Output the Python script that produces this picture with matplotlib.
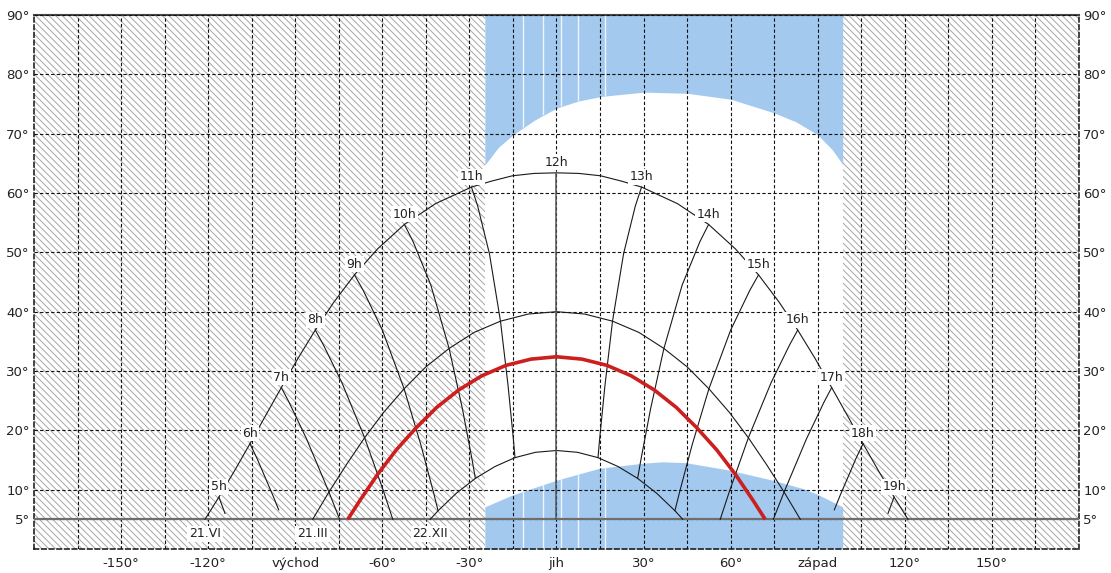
import matplotlib
matplotlib.use("Agg")
import matplotlib.pyplot as plt

plt.rcParams['font.family'] = ['DejaVu Sans']
plt.rcParams['hatch.linewidth'] = 0.7

# ---------------- data (azimuth deg from south, elevation deg) ----------------
summer_az = [-121.1, -116.3, -110.9, -105.6, -100.2, -94.8, -89.1, -83.1, -76.7, -69.6,
             -61.6, -52.4, -41.7, -29.3, -22.4, -15.2, -7.7, 0.0,
             7.7, 15.2, 22.4, 29.3, 41.7, 52.4, 61.6, 69.6, 76.7, 83.1, 89.1, 94.8,
             100.2, 105.6, 110.9, 116.3, 121.1]
summer_el = [5.0, 8.75, 13.2, 17.75, 22.5, 27.2, 32.1, 36.9, 41.6, 46.2,
             50.6, 54.7, 58.2, 61.0, 62.0, 62.9, 63.3, 63.4,
             63.3, 62.9, 62.0, 61.0, 58.2, 54.7, 50.6, 46.2, 41.6, 36.9, 32.1, 27.2,
             22.5, 17.75, 13.2, 8.75, 5.0]

equinox_az = [-84.0, -78.4, -72.4, -66.1, -59.6, -52.5, -45.0, -37.0, -28.4, -19.3, -9.7, 0.0,
              9.7, 19.3, 28.4, 37.0, 45.0, 52.5, 59.6, 66.1, 72.4, 78.4, 84.0]
equinox_el = [5.0, 9.6, 14.2, 18.75, 23.0, 27.0, 30.7, 33.8, 36.5, 38.4, 39.6, 40.0,
              39.6, 38.4, 36.5, 33.8, 30.7, 27.0, 23.0, 18.75, 14.2, 9.6, 5.0]

red_az = [-71.9, -67.7, -61.6, -55.2, -48.4, -41.3, -33.7, -25.7, -17.4, -8.8, 0.0,
          8.8, 17.4, 25.7, 33.7, 41.3, 48.4, 55.2, 61.6, 67.7, 71.9]
red_el = [5.0, 8.2, 12.6, 16.7, 20.4, 23.85, 26.8, 29.2, 30.95, 32.0, 32.4,
          32.0, 30.95, 29.2, 26.8, 23.85, 20.4, 16.7, 12.6, 8.2, 5.0]

winter_az = [-43.5, -40.8, -34.5, -27.95, -21.2, -14.3, -7.2, 0.0,
             7.2, 14.3, 21.2, 27.95, 34.5, 40.8, 43.5]
winter_el = [5.0, 6.45, 9.4, 11.9, 13.9, 15.4, 16.3, 16.6,
             16.3, 15.4, 13.9, 11.9, 9.4, 6.45, 5.0]

date_labels = ['21.VI', '21.III', '22.XII']

# hour lines: from the 21.VI point downward through the year
hour_labels = ['5h', '6h', '7h', '8h', '9h', '10h', '11h', '12h',
               '13h', '14h', '15h', '16h', '17h', '18h', '19h']
hour_az = [
    [-116.3, -114.2],
    [-105.6, -103.2, -97.6, -95.7],
    [-94.8, -92.2, -86.1, -78.4, -74.7],
    [-83.1, -80.3, -73.9, -66.1, -59.6, -56.4],
    [-69.6, -66.6, -60.0, -52.5, -46.7, -42.35, -40.8],
    [-52.4, -49.4, -43.3, -37.0, -32.4, -29.1, -27.95],
    [-29.3, -27.15, -23.1, -19.3, -16.7, -14.9, -14.3],
    [0.0, 0.0],
    [29.3, 27.15, 23.1, 19.3, 16.7, 14.9, 14.3],
    [52.4, 49.4, 43.3, 37.0, 32.4, 29.1, 27.95],
    [69.6, 66.6, 60.0, 52.5, 46.7, 42.35, 40.8],
    [83.1, 80.3, 73.9, 66.1, 59.6, 56.4],
    [94.8, 92.2, 86.1, 78.4, 74.7],
    [105.6, 103.2, 97.6, 95.7],
    [116.3, 114.2],
]
hour_el = [
    [8.75, 6.0],
    [17.75, 15.3, 8.9, 6.6],
    [27.2, 24.8, 18.55, 9.6, 5.0],
    [36.9, 34.4, 28.0, 18.75, 9.75, 5.0],
    [46.2, 43.6, 36.9, 27.0, 17.5, 9.5, 6.45],
    [54.7, 51.8, 44.5, 33.8, 23.6, 15.1, 11.9],
    [61.0, 57.8, 49.75, 38.4, 27.6, 18.75, 15.4],
    [63.4, 5.0],
    [61.0, 57.8, 49.75, 38.4, 27.6, 18.75, 15.4],
    [54.7, 51.8, 44.5, 33.8, 23.6, 15.1, 11.9],
    [46.2, 43.6, 36.9, 27.0, 17.5, 9.5, 6.45],
    [36.9, 34.4, 28.0, 18.75, 9.75, 5.0],
    [27.2, 24.8, 18.55, 9.6, 5.0],
    [17.75, 15.3, 8.9, 6.6],
    [8.75, 6.0],
]

# obstruction (blue) areas
blue_top_az = [-24.7, -20.0, -15.0, -7.5, 0.0, 7.5, 15.8, 30.2, 45.1, 60.1, 75.0, 82.5, 90.0, 95.0, 98.6]
blue_top_el = [64.7, 67.7, 69.8, 72.3, 74.3, 75.5, 76.3, 77.0, 76.8, 75.8, 73.5, 72.0, 69.8, 67.3, 64.8]
blue_bot_az = [-24.7, -15.2, 0.0, 14.7, 29.6, 36.4, 44.5, 59.5, 74.4, 84.8, 90.0, 98.6]
blue_bot_el = [7.1, 9.1, 11.6, 13.6, 14.45, 14.7, 14.55, 13.3, 11.6, 10.2, 9.2, 7.1]
blue_gap_az = [-11.6, -4.7, 1.6, 7.4, 16.7]

horizon_el = 5

x_ticks = [-150, -120, -90, -60, -30, 0, 30, 60, 90, 120, 150]
x_ticklabels = ['-150°', '-120°', 'východ', '-60°', '-30°', 'jih', '30°', '60°', 'západ', '120°', '150°']
x_minor = [-165, -135, -105, -75, -45, -15, 15, 45, 75, 105, 135, 165]
y_ticks = [5, 10, 20, 30, 40, 50, 60, 70, 80, 90]
y_ticklabels = ['5°', '10°', '20°', '30°', '40°', '50°', '60°', '70°', '80°', '90°']

# ---------------- figure ----------------
fig = plt.figure(figsize=(11.11, 5.73), dpi=100)
ax = fig.add_axes([34 / 1111, 24 / 573, 1045 / 1111, 534 / 573])
ax.set_xlim(-180, 180)
ax.set_ylim(0, 90)

txt_color = '#222222'

# hatched (no sun) areas
hatch_pat = '\\' * 5
ax.axvspan(-180, blue_top_az[0], facecolor='white', edgecolor='#a6a6a6',
           hatch=hatch_pat, linewidth=0, zorder=0.5)
ax.axvspan(blue_top_az[-1], 180, facecolor='white', edgecolor='#a6a6a6',
           hatch=hatch_pat, linewidth=0, zorder=0.5)

# blue obstruction areas
blue = '#a3c9ef'
top_poly = ax.fill_between(blue_top_az, blue_top_el, 90, color=blue, lw=0, zorder=1)
bot_poly = ax.fill_between(blue_bot_az, 0, blue_bot_el, color=blue, lw=0, zorder=1)
for poly in (top_poly, bot_poly):
    vl = ax.vlines(blue_gap_az, 0, 90, colors='#eef5fc', lw=1.0, zorder=1.1)
    vl.set_clip_path(poly.get_paths()[0], ax.transData)

# grid
ax.set_xticks(x_ticks)
ax.set_xticklabels(x_ticklabels)
ax.set_xticks(x_minor, minor=True)
ax.set_yticks(y_ticks)
ax.set_yticklabels(y_ticklabels)
ax.set_axisbelow(False)
ax.grid(True, which='both', color='#111111', linestyle=(0, (3, 2)), linewidth=0.8)
ax.tick_params(which='both', length=0, colors=txt_color, labelsize=9.5)
ax.tick_params(axis='y', labelleft=True, labelright=True, pad=3)
ax.tick_params(axis='x', pad=6)

for side in ['left', 'right', 'bottom']:
    ax.spines[side].set_linestyle((0, (3, 2)))
    ax.spines[side].set_linewidth(1.1)
    ax.spines[side].set_color('#111111')
ax.spines['top'].set_linewidth(1.5)
ax.spines['top'].set_color('#444444')

# horizon limit
ax.axhline(horizon_el, color='#6e6e6e', lw=1.6, zorder=2.7)

# day curves
line_kw = dict(color='#1a1a1a', lw=0.8, zorder=3)
ax.plot(summer_az, summer_el, **line_kw)
ax.plot(equinox_az, equinox_el, **line_kw)
ax.plot(winter_az, winter_el, **line_kw)
ax.plot(red_az, red_el, color='#cc1f1f', lw=2.6, zorder=3.5, solid_capstyle='butt')

# hour lines and labels
for lab, haz, hel in zip(hour_labels, hour_az, hour_el):
    if lab == '12h':
        ax.plot(haz, hel, color='#555555', lw=1.1, zorder=3)
    else:
        ax.plot(haz, hel, **line_kw)
    ax.annotate(lab, (haz[0], hel[0]), xytext=(0, 7.5), textcoords='offset points',
                ha='center', va='center', fontsize=9, color=txt_color, zorder=5,
                bbox=dict(boxstyle='square,pad=0.12', fc='white', ec='none'))

# date labels at the start of each day curve
for lab, caz, cel in zip(date_labels, [summer_az, equinox_az, winter_az],
                         [summer_el, equinox_el, winter_el]):
    ax.annotate(lab, (caz[0], cel[0]), xytext=(0, -10.5), textcoords='offset points',
                ha='center', va='center', fontsize=9, color=txt_color, zorder=5,
                bbox=dict(boxstyle='square,pad=0.15', fc='white', ec='none'))

fig.savefig('out.png', dpi=100)
